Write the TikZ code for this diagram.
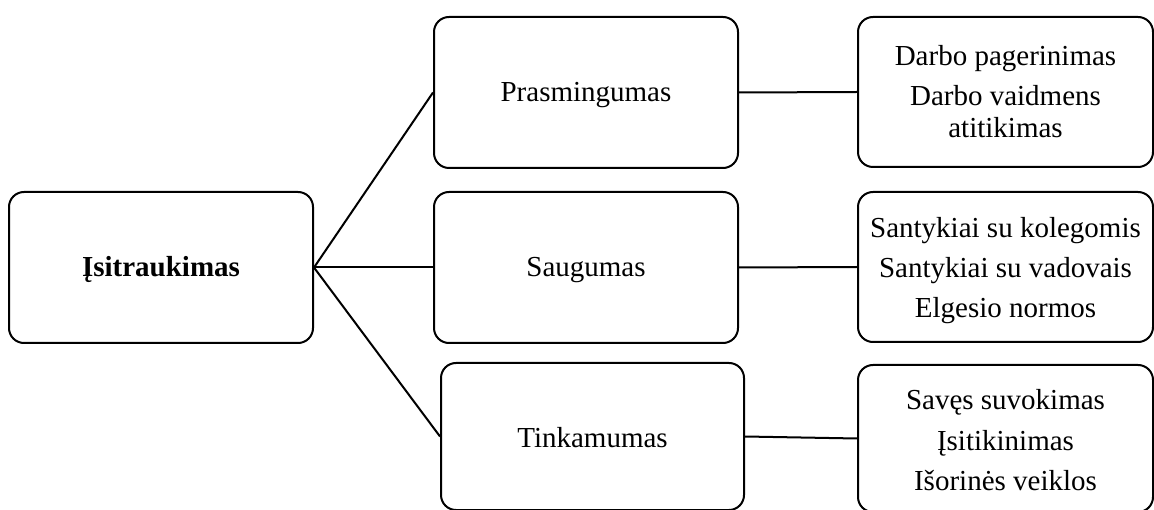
\documentclass[tikz,border=0pt]{standalone}
\usepackage{fontspec}
\setmainfont{Liberation Serif}
\begin{document}
\begin{tikzpicture}[x=1pt,y=-1pt,
  card/.style={draw=black, line width=2pt, rounded corners=15pt, inner sep=0pt,
    align=center, font=\fontsize{29}{32}\selectfont},
  oneline/.style={text height=20pt, text depth=1pt},
  link/.style={draw=black, line width=2pt}]
\useasboundingbox (0,0) rectangle (1154,510);

% root
\node[card, oneline, minimum width=304pt, minimum height=151pt] (root) at (161,267.5)
  {\textbf{Įsitraukimas}};

% middle column
\node[card, oneline, minimum width=304pt, minimum height=151pt] (pras) at (586,92.5) {Prasmingumas};
\node[card, oneline, minimum width=304pt, minimum height=151pt] (saug) at (586,267.5) {Saugumas};
\node[card, text height=22pt, text depth=-1pt, minimum width=303pt, minimum height=147pt]
  (tink) at (592.5,436.5) {Tinkamumas};

% right column
\node[card, minimum width=295pt, minimum height=150pt] (r1) at (1005.5,92)
  {Darbo pagerinimas\\[8pt]Darbo vaidmens\\atitikimas};
\node[card, minimum width=295pt, minimum height=150pt, font=\fontsize{29}{40}\selectfont]
  (r2) at (1005.5,267) {\rule{0pt}{28pt}Santykiai su kolegomis\\Santykiai su vadovais\\Elgesio normos};
\node[card, minimum width=295pt, minimum height=147pt, font=\fontsize{29}{40.5}\selectfont]
  (r3) at (1005.5,438.5) {\rule{0pt}{24pt}Savęs suvokimas\\Įsitikinimas\\Išorinės veiklos};

% connectors
\draw[link] (root.east) -- (pras.west);
\draw[link] (root.east) -- (saug.west);
\draw[link] (root.east) -- (tink.west);
\draw[link] (pras.east) -- (r1.west);
\draw[link] (saug.east) -- (r2.west);
\draw[link] (tink.east) -- (r3.west);
\end{tikzpicture}
\end{document}
